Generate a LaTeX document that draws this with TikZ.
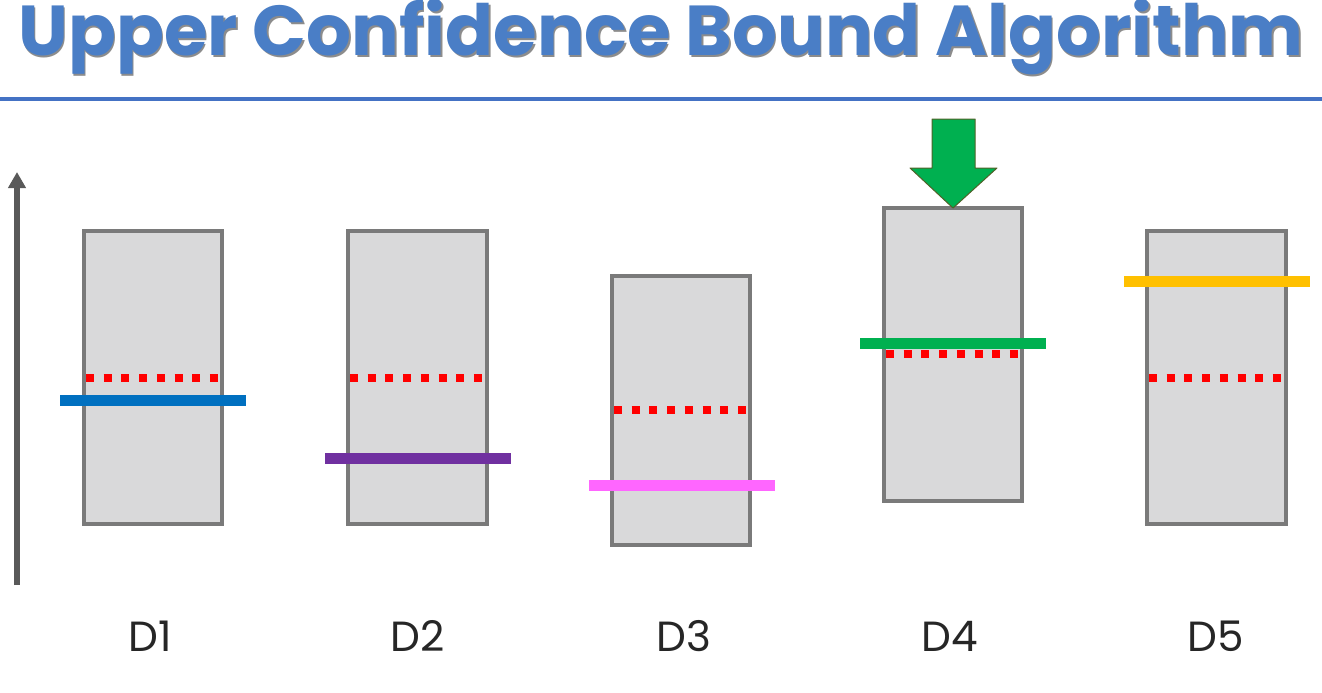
\documentclass[tikz,border=0pt]{standalone}
\usepackage{fontspec}
\newfontfamily\titlefont{Poppins}
\usepackage{tikz}
\usetikzlibrary{arrows.meta}
\usepackage{xcolor}
\definecolor{titleblue}{HTML}{4A7EC6}
\definecolor{rule}{HTML}{4472C4}
\definecolor{boxgray}{HTML}{D9D9DA}
\definecolor{edgegray}{HTML}{7A7A7A}
\definecolor{axisgray}{HTML}{595959}
\definecolor{ucbblue}{HTML}{0070C0}
\definecolor{ucbpurple}{HTML}{7030A0}
\definecolor{ucbpink}{HTML}{FF66FF}
\definecolor{ucbgreen}{HTML}{00B050}
\definecolor{ucbyellow}{HTML}{FFC000}
\definecolor{arrowedge}{HTML}{4F6228}

\begin{document}
\begin{tikzpicture}[
    armbox/.style={fill=boxgray,draw=edgegray,line width=0.035cm},
    meanline/.style={draw=red,line width=0.08cm,dash pattern=on 0.08cm off 0.097cm},
    boundbar/.style={line width=0.11cm},
    armlabel/.style={font=\titlefont\fontsize{12}{12}\selectfont,text=black!85},
    titletext/.style={anchor=base,inner sep=0pt,font=\titlefont\bfseries\fontsize{20.1}{22}\selectfont}]
        \useasboundingbox (0,0) rectangle (13.22,6.92);
        % title and rule
        \node[titletext,text=black!45] (titleshade) at (6.625,6.345) {Upper Confidence Bound Algorithm};
        \node[titletext,text=titleblue] (title) at (6.61,6.36) {Upper Confidence Bound Algorithm};
        \draw[rule,line width=0.04cm] (0,5.935) -- (13.22,5.935);
        % axis
        \coordinate (axisbot) at (0.17,1.07);
        \coordinate (axistop) at (0.17,5.20);
        \draw[axisgray,line width=0.05cm,-{Triangle[width=0.17cm,length=0.16cm]}] (axisbot) -- (axistop);
        % boxes
        \filldraw[armbox] (0.84,1.68) rectangle (2.22,4.61);
        \filldraw[armbox] (3.48,1.68) rectangle (4.87,4.61);
        \filldraw[armbox] (6.12,1.47) rectangle (7.50,4.16);
        \filldraw[armbox] (8.84,1.91) rectangle (10.22,4.84);
        \filldraw[armbox] (11.47,1.68) rectangle (12.86,4.61);
        % averages
        \draw[meanline] (0.86,3.14) -- (2.20,3.14);
        \draw[meanline] (3.50,3.14) -- (4.85,3.14);
        \draw[meanline] (6.14,2.82) -- (7.48,2.82);
        \draw[meanline] (8.86,3.38) -- (10.20,3.38);
        \draw[meanline] (11.49,3.14) -- (12.84,3.14);
        % confidence bounds
        \draw[boundbar,ucbblue] (0.60,2.92) -- (2.46,2.92);
        \draw[boundbar,ucbpurple] (3.25,2.34) -- (5.11,2.34);
        \draw[boundbar,ucbpink] (5.89,2.07) -- (7.75,2.07);
        \draw[boundbar,ucbgreen] (8.60,3.49) -- (10.46,3.49);
        \draw[boundbar,ucbyellow] (11.24,4.11) -- (13.10,4.11);
        % pick
        \filldraw[fill=ucbgreen,draw=arrowedge,line width=0.01cm,line join=round]
            (9.32,5.73) -- (9.75,5.73) -- (9.75,5.24) -- (9.97,5.24) -- (9.53,4.84)
            -- (9.10,5.24) -- (9.32,5.24) -- cycle;
        % labels
        \node[armlabel] (d1) at (1.50,0.56) {D1};
        \node[armlabel] (d2) at (4.18,0.56) {D2};
        \node[armlabel] (d3) at (6.84,0.56) {D3};
        \node[armlabel] (d4) at (9.50,0.56) {D4};
        \node[armlabel] (d5) at (12.16,0.56) {D5};
      \end{tikzpicture}
\end{document}
